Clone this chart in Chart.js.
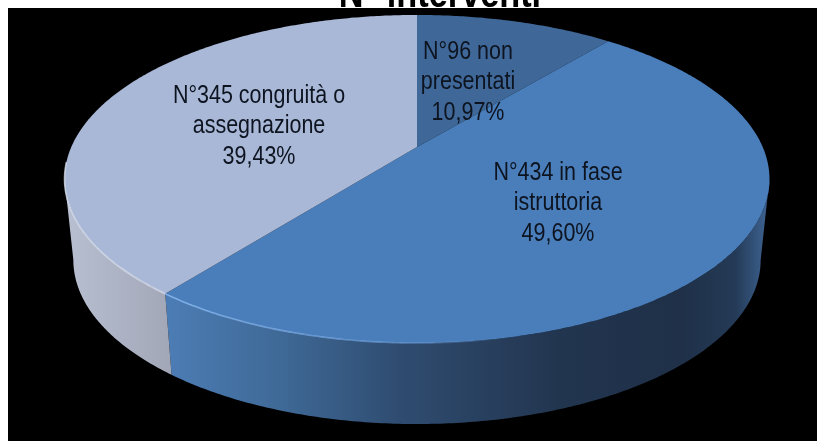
<!DOCTYPE html>
<html>
<head>
<meta charset="utf-8">
<title>N° interventi</title>
<script src="https://cdn.jsdelivr.net/npm/chart.js@4/dist/chart.umd.min.js"></script>
<style>
  html, body { margin: 0; padding: 0; background: #fff; }
  #wrap { position: relative; width: 817px; height: 441px; overflow: hidden; }
</style>
</head>
<body>
<div id="wrap"><canvas id="pie" width="817" height="441"></canvas></div>
<script>
// ---------- Data ----------
const chartTitle = 'N° interventi';
const categories = ['non presentati', 'in fase istruttoria', 'congruità o assegnazione'];
const interventi = [96, 434, 345];
const percentages = ['10,97%', '49,60%', '39,43%'];
const sliceLabels = [
  ['N°96 non', 'presentati'],
  ['N°434 in fase', 'istruttoria'],
  ['N°345 congruità o', 'assegnazione'],
];

// ---------- Look ----------
const topColors = ['#3f6898', '#4a7ebb', '#a9b8d7'];
// wall shading runs left to right, [x, colour]
const wallStops = [
  [[170, '#4a78ae'], [770, '#3a5c88']],
  [[170, '#4c7cb4'], [285, '#3e6895'], [400, '#2f4c70'], [560, '#22354f'], [680, '#1f3048'], [735, '#243a56'], [765, '#3b5f8c']],
  [[70, '#b6bed0'], [172, '#a2a7b7']],
];
const labelPos = [[468, 59], [558, 180], [259, 103]];
const lineGap = 30.3;
const squeeze = 0.826; // the text in the picture is narrowed

// perspective of the pie top, disc (u, v) onto the page
const cx = 417, cy = 147, A = 345.7, B = 157.8, G = -0.195;
const depth = 81, bottomScale = 0.975;
const wallStart = Math.asin(-G); // where the rim is at its widest

function rimPoint(angle, low) {
  const th = angle + Math.PI / 2; // chart.js 0 sits at 3 o'clock
  const u = Math.sin(th), v = -Math.cos(th);
  const d = 1 + G * v;
  const x = A * u / d, y = cy + B * v / d;
  if (low) return [cx + x * bottomScale, y + depth];
  return [cx + x, y];
}

function sampleRim(ctx, from, to, low, first) {
  const steps = Math.max(2, Math.ceil(Math.abs(to - from) / 0.01));
  for (let i = 0; i <= steps; i++) {
    const p = rimPoint(from + (to - from) * i / steps, low);
    if (i === 0 && first) ctx.moveTo(p[0], p[1]);
    else ctx.lineTo(p[0], p[1]);
  }
}

function xGradient(ctx, stops) {
  const x0 = stops[0][0], x1 = stops[stops.length - 1][0];
  const g = ctx.createLinearGradient(x0, 0, x1, 0);
  stops.forEach((s) => g.addColorStop((s[0] - x0) / (x1 - x0), s[1]));
  return g;
}

function drawWalls(ctx, arcs) {
  // only the front of the rim shows, between its two widest points
  arcs.forEach((arc, i) => {
    const from = Math.max(arc.startAngle, wallStart);
    const to = Math.min(arc.endAngle, Math.PI - wallStart);
    if (to <= from) return;
    ctx.beginPath();
    sampleRim(ctx, from, to, false, true);
    sampleRim(ctx, to, from, true, false);
    ctx.closePath();
    ctx.fillStyle = xGradient(ctx, wallStops[i]);
    ctx.fill();
  });
}

function drawTops(ctx, arcs) {
  arcs.forEach((arc, i) => {
    ctx.beginPath();
    ctx.moveTo(cx, cy);
    sampleRim(ctx, arc.startAngle, arc.endAngle, false, false);
    ctx.closePath();
    ctx.fillStyle = topColors[i];
    ctx.fill();
  });
}

function drawHighlights(ctx, arcs) {
  ctx.lineWidth = 1.6;
  // pale edge on the front of the blue slice, fades to the right
  const g = ctx.createLinearGradient(170, 0, 520, 0);
  g.addColorStop(0, 'rgba(132,180,236,0.95)');
  g.addColorStop(0.6, 'rgba(120,170,230,0.6)');
  g.addColorStop(1, 'rgba(120,170,230,0)');
  ctx.strokeStyle = g;
  ctx.beginPath();
  sampleRim(ctx, arcs[1].endAngle, 0.9, false, true);
  ctx.stroke();
  // and on the pale slice
  ctx.strokeStyle = 'rgba(226,232,244,0.7)';
  ctx.beginPath();
  sampleRim(ctx, arcs[2].startAngle, Math.PI * 0.97, false, true);
  ctx.stroke();
}

function narrowText(ctx, text, x, y) {
  ctx.save();
  ctx.scale(squeeze, 1);
  ctx.fillText(text, x / squeeze, y);
  ctx.restore();
}

const pie3d = {
  id: 'pie3d',
  beforeDraw(chart) {
    const ctx = chart.ctx;
    ctx.save();
    ctx.fillStyle = '#fff';
    ctx.fillRect(0, 0, chart.width, chart.height);
    ctx.fillStyle = '#000';
    ctx.textAlign = 'center';
    ctx.font = 'bold 41.5px "Liberation Sans", Arial, sans-serif';
    narrowText(ctx, chartTitle, 440, 7);
    ctx.fillRect(8, 8, chart.width - 8, chart.height - 8);
    ctx.restore();
  },
  // the arcs keep the angles the library worked out, only the painting is ours
  beforeDatasetDraw(chart, args) {
    const ctx = chart.ctx;
    const arcs = chart.getDatasetMeta(args.index).data;
    ctx.save();
    ctx.filter = 'blur(0.7px)';
    drawWalls(ctx, arcs);
    drawTops(ctx, arcs);
    drawHighlights(ctx, arcs);
    ctx.restore();

    ctx.save();
    ctx.fillStyle = '#0d1420';
    ctx.textAlign = 'center';
    ctx.font = '26px "Liberation Sans", Arial, sans-serif';
    sliceLabels.forEach((lines, i) => {
      const [x, y] = labelPos[i];
      lines.concat(percentages[i]).forEach((line, n) => narrowText(ctx, line, x, y + n * lineGap));
    });
    ctx.restore();
    return false;
  },
};

new Chart(document.getElementById('pie'), {
  type: 'pie',
  data: {
    labels: categories,
    datasets: [{ label: chartTitle, data: interventi, backgroundColor: topColors, borderWidth: 0 }],
  },
  options: {
    responsive: false,
    animation: false,
    plugins: { legend: { display: false }, tooltip: { enabled: false } },
  },
  plugins: [pie3d],
});
</script>
</body>
</html>
